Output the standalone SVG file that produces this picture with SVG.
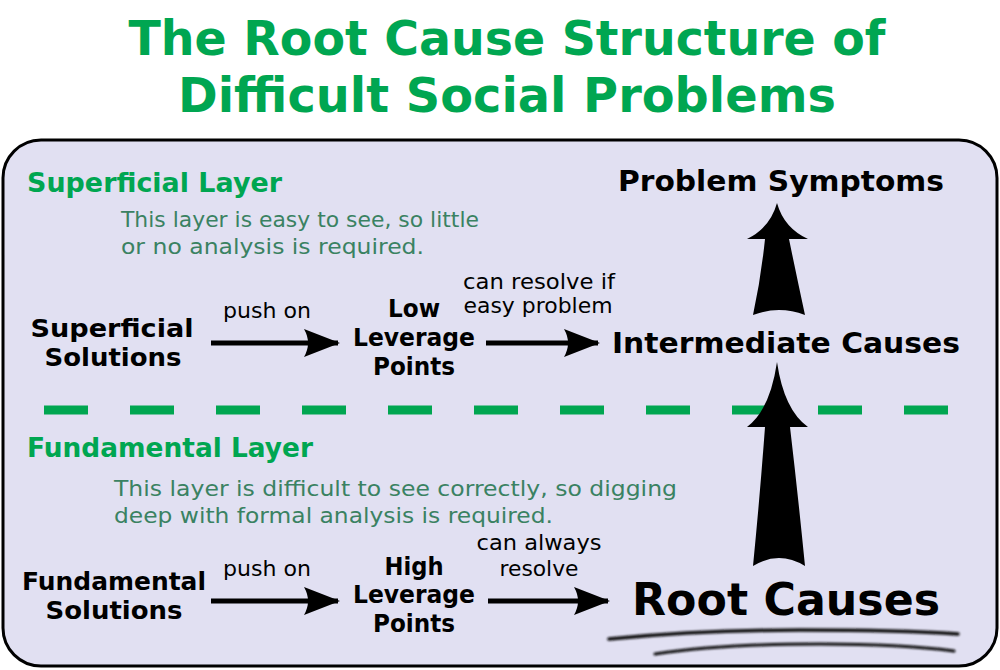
<svg xmlns="http://www.w3.org/2000/svg" width="1000" height="670" viewBox="0 0 1000 670">
<defs>
<style>
.title{font-family:"DejaVu Sans",Verdana,sans-serif;font-weight:bold;font-size:48px;fill:#00A651;text-anchor:middle}
.layer{font-family:"DejaVu Sans",Verdana,sans-serif;font-weight:bold;font-size:27px;fill:#00A651}
.desc{font-family:"DejaVu Sans",Verdana,sans-serif;font-size:21.5px;fill:#3A8262}
.node{font-family:"DejaVu Sans",Verdana,sans-serif;font-weight:bold;font-size:24px;fill:#000;text-anchor:middle}
.big{font-family:"DejaVu Sans",Verdana,sans-serif;font-weight:bold;font-size:29px;fill:#000}
.lbl{font-family:"DejaVu Sans",Verdana,sans-serif;font-size:21.5px;fill:#000;text-anchor:middle}
.conn{stroke:#000;stroke-width:5;fill:none}
</style>
<marker id="ah" markerUnits="userSpaceOnUse" viewBox="0 0 36 30" refX="34" refY="15" markerWidth="36" markerHeight="30" orient="auto">
<path d="M0,1 L36,15 L0,29 Q8,15 0,1 Z" fill="#000"/>
</marker>
<filter id="blur" x="-5%" y="-100%" width="110%" height="300%"><feGaussianBlur stdDeviation="0.8"/></filter>
</defs>
<rect width="1000" height="670" fill="#fff"/>
<text class="title" x="507" y="55" textLength="757" lengthAdjust="spacingAndGlyphs">The Root Cause Structure of</text>
<text class="title" x="507" y="112" textLength="658" lengthAdjust="spacingAndGlyphs">Difficult Social Problems</text>
<rect x="3" y="140" width="994" height="526" rx="38" fill="#E1E0F2" stroke="#000" stroke-width="3"/>
<line x1="44" y1="410" x2="948" y2="410" stroke="#00A651" stroke-width="9" stroke-dasharray="44 42"/>
<g id="superficial-layer">
<text class="layer" x="27" y="192" textLength="255" lengthAdjust="spacingAndGlyphs">Superficial Layer</text>
<text class="desc" x="121" y="227" textLength="358" lengthAdjust="spacingAndGlyphs">This layer is easy to see, so little</text>
<text class="desc" x="121" y="254" textLength="303" lengthAdjust="spacingAndGlyphs">or no analysis is required.</text>
</g>
<g id="fundamental-layer">
<text class="layer" x="27" y="457" textLength="286" lengthAdjust="spacingAndGlyphs">Fundamental Layer</text>
<text class="desc" x="114" y="496" textLength="563" lengthAdjust="spacingAndGlyphs">This layer is difficult to see correctly, so digging</text>
<text class="desc" x="114" y="523" textLength="439" lengthAdjust="spacingAndGlyphs">deep with formal analysis is required.</text>
</g>
<g id="problem-symptoms"><text class="big" x="618" y="191" textLength="326" lengthAdjust="spacingAndGlyphs">Problem Symptoms</text></g>
<g id="intermediate-causes"><text class="big" x="612" y="353" textLength="348" lengthAdjust="spacingAndGlyphs">Intermediate Causes</text></g>
<g id="root-causes">
<text class="big" x="632" y="615" style="font-size:45px" textLength="308" lengthAdjust="spacingAndGlyphs">Root Causes</text>
<g filter="url(#blur)" stroke="#111" fill="none" stroke-linecap="round">
<path d="M609,639 Q700,630 800,630 Q900,630 958,634" stroke-width="3.5"/>
<path d="M655,654 Q720,644 820,644 Q900,644 954,651" stroke-width="3"/>
</g>
</g>
<g id="superficial-solutions">
<text class="node" x="112" y="337" textLength="163" lengthAdjust="spacingAndGlyphs">Superficial</text>
<text class="node" x="113" y="366" textLength="137" lengthAdjust="spacingAndGlyphs">Solutions</text>
</g>
<g id="low-leverage">
<text class="node" x="414" y="317" textLength="52" lengthAdjust="spacingAndGlyphs">Low</text>
<text class="node" x="414" y="346" textLength="122" lengthAdjust="spacingAndGlyphs">Leverage</text>
<text class="node" x="414" y="375" textLength="82" lengthAdjust="spacingAndGlyphs">Points</text>
</g>
<g id="fundamental-solutions">
<text class="node" x="114" y="590" textLength="184" lengthAdjust="spacingAndGlyphs">Fundamental</text>
<text class="node" x="114" y="619" textLength="137" lengthAdjust="spacingAndGlyphs">Solutions</text>
</g>
<g id="high-leverage">
<text class="node" x="414" y="575" textLength="59" lengthAdjust="spacingAndGlyphs">High</text>
<text class="node" x="414" y="603" textLength="122" lengthAdjust="spacingAndGlyphs">Leverage</text>
<text class="node" x="414" y="632" textLength="82" lengthAdjust="spacingAndGlyphs">Points</text>
</g>
<g id="connectors">
<line class="conn" x1="211" y1="343" x2="338" y2="343" marker-end="url(#ah)"/>
<text class="lbl" x="267" y="318" textLength="88" lengthAdjust="spacingAndGlyphs">push on</text>
<line class="conn" x1="486" y1="343" x2="598" y2="343" marker-end="url(#ah)"/>
<text class="lbl" x="539" y="289" textLength="152" lengthAdjust="spacingAndGlyphs">can resolve if</text>
<text class="lbl" x="538" y="313" textLength="149" lengthAdjust="spacingAndGlyphs">easy problem</text>
<line class="conn" x1="211" y1="601" x2="338" y2="601" marker-end="url(#ah)"/>
<text class="lbl" x="267" y="576" textLength="88" lengthAdjust="spacingAndGlyphs">push on</text>
<line class="conn" x1="488" y1="601" x2="608" y2="601" marker-end="url(#ah)"/>
<text class="lbl" x="539" y="550" textLength="125" lengthAdjust="spacingAndGlyphs">can always</text>
<text class="lbl" x="539" y="576" textLength="79" lengthAdjust="spacingAndGlyphs">resolve</text>
<path d="M777,203 Q784,228 808,239 L789,239 Q797,278 805,315 Q779,305 753,315 Q761,278 765,239 L747,239 Q770,228 777,203 Z" fill="#000"/>
<path d="M777,362 Q784,410 808,427 L790,427 Q798,495 805,566 Q779,550 753,566 Q760,495 765,427 L747,427 Q770,410 777,362 Z" fill="#000"/>
</g>
</svg>
